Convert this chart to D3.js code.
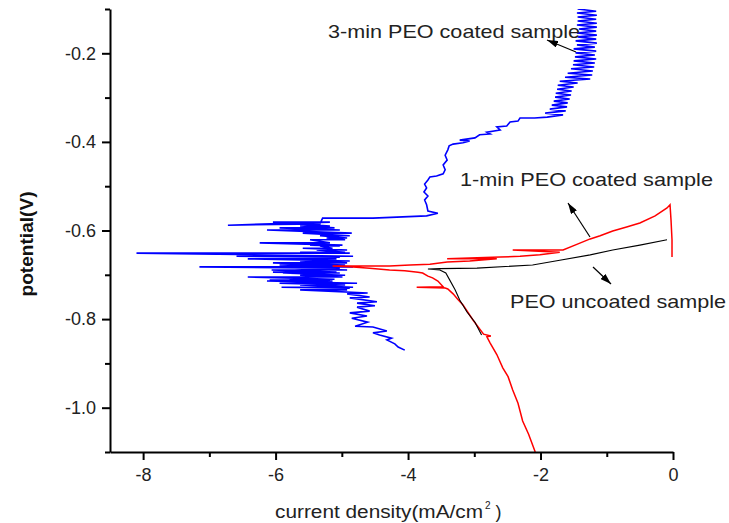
<!DOCTYPE html>
<html>
<head>
<meta charset="utf-8">
<script src="https://cdn.jsdelivr.net/npm/d3@7"></script>
<style>
  body { margin: 0; background: #fff; }
  text { font-family: "Liberation Sans", Arial, sans-serif; }
</style>
</head>
<body>
<div id="chart"></div>
<script>
// axis ticks
var xMajor = [-8, -6, -4, -2, 0];
var xMinor = [-7, -5, -3, -1];
var yMajor = [-1.0, -0.8, -0.6, -0.4, -0.2];
var yMinor = [-1.1, -0.9, -0.7, -0.5, -0.3, -0.1];

// [current density (mA/cm2), potential (V)] in scan order
var uncoated = [
  [-2.89,-0.836],[-2.99,-0.807],[-3.11,-0.784],[-3.22,-0.757],[-3.29,-0.734],
  [-3.37,-0.712],[-3.43,-0.696],[-3.52,-0.689],[-3.70,-0.687],[-3.52,-0.686],
  [-2.96,-0.685],[-2.12,-0.678],[-1.71,-0.667],[-1.25,-0.655],[-0.91,-0.644],
  [-0.50,-0.633],[-0.09,-0.621]
];

var coated1min = [
  [-2.08,-1.10],[-2.18,-1.06],[-2.27,-1.03],[-2.34,-0.99],[-2.42,-0.96],
  [-2.49,-0.93],[-2.57,-0.91],[-2.66,-0.88],[-2.76,-0.854],[-2.81,-0.840],
  [-2.75,-0.838],[-2.86,-0.834],[-2.95,-0.816],[-3.02,-0.802],[-3.10,-0.784],
  [-3.17,-0.768],[-3.25,-0.755],[-3.32,-0.743],[-3.40,-0.732],[-3.44,-0.730],
  [-3.87,-0.728],[-3.47,-0.727],[-3.55,-0.714],[-3.63,-0.707],[-3.70,-0.703],
  [-3.78,-0.696],[-3.85,-0.694],[-4.05,-0.691],[-4.28,-0.689],[-4.58,-0.685],
  [-4.88,-0.682],[-5.14,-0.680],[-4.73,-0.680],[-4.28,-0.680],[-3.97,-0.678],
  [-3.67,-0.676],[-3.41,-0.671],[-3.07,-0.669],[-2.66,-0.664],[-3.41,-0.664],
  [-2.61,-0.660],[-2.31,-0.658],[-2.01,-0.655],[-1.71,-0.649],[-2.42,-0.644],
  [-1.66,-0.644],[-1.48,-0.633],[-1.25,-0.619],[-1.10,-0.612],[-0.91,-0.601],
  [-0.70,-0.592],[-0.50,-0.583],[-0.27,-0.567],[-0.09,-0.549],[-0.045,-0.542],
  [-0.03,-0.576],[-0.015,-0.621],[-0.015,-0.660]
];

var coated3min = [
  [-4.05,-0.870],[-4.15,-0.863],[-4.20,-0.856],[-4.32,-0.847],[-4.25,-0.843],
  [-4.43,-0.836],[-4.53,-0.831],[-4.32,-0.827],[-4.53,-0.818],[-4.80,-0.816],
  [-4.61,-0.807],[-4.85,-0.798],[-4.62,-0.793],[-4.88,-0.786],[-4.58,-0.782],
  [-4.77,-0.773],[-4.50,-0.770],[-4.77,-0.764],[-4.47,-0.761],[-4.88,-0.752],
  [-4.58,-0.750],[-4.92,-0.743],[-4.61,-0.741],
  [-5.63,-0.734],[-4.92,-0.734],[-5.33,-0.730],[-4.88,-0.730],[-5.91,-0.728],
  [-4.83,-0.728],[-5.63,-0.723],[-4.95,-0.723],[-5.94,-0.719],[-4.77,-0.719],
  [-6.13,-0.714],[-5.14,-0.714],[-6.09,-0.712],[-5.18,-0.712],[-5.79,-0.710],
  [-5.11,-0.710],[-6.42,-0.705],[-4.99,-0.705],[-5.63,-0.701],[-4.95,-0.701],
  [-5.89,-0.696],[-5.03,-0.696],[-6.04,-0.694],[-5.08,-0.694],[-6.06,-0.689],
  [-4.92,-0.689],[-5.71,-0.685],[-5.03,-0.685],[-7.15,-0.682],[-4.83,-0.682],
  [-5.94,-0.678],[-4.95,-0.678],[-6.04,-0.673],[-4.92,-0.673],[-5.63,-0.669],
  [-4.88,-0.669],[-6.42,-0.664],[-5.08,-0.664],[-5.79,-0.660],[-5.03,-0.660],
  [-6.59,-0.658],[-4.83,-0.658],[-8.10,-0.651],[-4.88,-0.651],[-5.63,-0.649],
  [-4.95,-0.649],[-5.38,-0.644],[-4.92,-0.644],[-5.59,-0.640],[-5.14,-0.640],
  [-5.33,-0.635],[-5.03,-0.635],[-5.48,-0.633],[-4.99,-0.633],[-6.24,-0.628],
  [-5.18,-0.628],[-5.48,-0.621],[-4.95,-0.621],[-5.23,-0.617],[-4.92,-0.617],
  [-5.33,-0.612],[-4.88,-0.612],[-5.59,-0.606],[-4.85,-0.606],[-6.13,-0.599],
  [-5.03,-0.599],[-5.94,-0.594],[-5.11,-0.594],[-5.63,-0.590],[-5.18,-0.590],
  [-6.04,-0.581],[-5.18,-0.581],[-6.72,-0.588],[-5.33,-0.585],[-5.29,-0.572],
  [-4.53,-0.572],[-3.72,-0.567],
  [-3.55,-0.561],[-3.70,-0.556],[-3.72,-0.542],[-3.75,-0.531],[-3.70,-0.522],
  [-3.76,-0.513],[-3.72,-0.504],[-3.75,-0.495],[-3.70,-0.486],[-3.67,-0.479],
  [-3.57,-0.477],[-3.47,-0.472],[-3.44,-0.463],[-3.47,-0.452],[-3.41,-0.441],
  [-3.44,-0.430],[-3.40,-0.418],[-3.38,-0.409],[-3.32,-0.405],[-3.17,-0.402],
  [-3.07,-0.398],[-3.22,-0.396],[-2.99,-0.391],[-2.92,-0.384],[-2.76,-0.382],
  [-2.81,-0.378],[-2.61,-0.373],[-2.66,-0.366],[-2.51,-0.364],[-2.46,-0.355],
  [-2.34,-0.353],[-2.31,-0.346],[-2.09,-0.346],
  [-1.90,-0.344],[-1.66,-0.339],[-1.93,-0.335],[-1.62,-0.330],[-1.86,-0.326],
  [-1.60,-0.321],[-1.83,-0.317],[-1.59,-0.312],[-1.80,-0.308],[-1.56,-0.303],
  [-1.78,-0.299],[-1.54,-0.294],[-1.77,-0.290],[-1.53,-0.285],[-1.75,-0.281],
  [-1.50,-0.276],[-1.74,-0.272],[-1.44,-0.267],[-1.71,-0.263],
  [-1.25,-0.258],[-1.63,-0.254],[-1.22,-0.249],[-1.59,-0.245],[-1.21,-0.240],
  [-1.54,-0.235],[-1.19,-0.231],[-1.51,-0.226],[-1.18,-0.222],[-1.50,-0.217],
  [-1.16,-0.213],[-1.48,-0.208],[-1.18,-0.204],[-1.47,-0.199],[-1.16,-0.195],
  [-1.50,-0.190],[-1.18,-0.186],[-1.45,-0.181],[-1.15,-0.177],[-1.47,-0.172],
  [-1.16,-0.168],[-1.44,-0.163],[-1.15,-0.159],[-1.45,-0.154],[-1.16,-0.150],
  [-1.42,-0.145],[-1.15,-0.141],[-1.45,-0.136],[-1.15,-0.132],[-1.44,-0.127],
  [-1.16,-0.123],[-1.44,-0.118],[-1.15,-0.114],[-1.45,-0.109],[-1.16,-0.105],
  [-1.44,-0.100]
];

var width = 729, height = 523;

var svg = d3.select("#chart").append("svg").attr("width", width).attr("height", height);

var x = d3.scaleLinear().domain([-8.5, 0]).range([110, 673]);
var y = d3.scaleLinear().domain([-1.1, -0.1]).range([452, 9]);

svg.append("clipPath").attr("id", "plot")
  .append("rect").attr("x", 110).attr("y", 9).attr("width", 563).attr("height", 443);

var line = d3.line().x(d => x(d[0])).y(d => y(d[1]));

var curves = svg.append("g").attr("clip-path", "url(#plot)");
curves.append("path").datum(coated3min)
  .attr("d", line).attr("fill", "none").attr("stroke", "#0000ff").attr("stroke-width", 1.6);
curves.append("path").datum(coated1min)
  .attr("d", line).attr("fill", "none").attr("stroke", "#ff0000").attr("stroke-width", 1.5);
curves.append("path").datum(uncoated)
  .attr("d", line).attr("fill", "none").attr("stroke", "#000").attr("stroke-width", 1.1);

// x axis: minor ticks first, then major with labels
svg.append("g").attr("transform", "translate(0,452)")
  .call(d3.axisBottom(x).tickValues(xMinor).tickSize(5).tickFormat(""))
  .call(g => g.select(".domain").remove());
var gx = svg.append("g").attr("transform", "translate(0,452)")
  .call(d3.axisBottom(x).tickValues(xMajor).tickSize(8).tickSizeOuter(0).tickPadding(8)
    .tickFormat(d => String(d)));

svg.append("g").attr("transform", "translate(110,0)")
  .call(d3.axisLeft(y).tickValues(yMinor).tickSize(5).tickFormat(""))
  .call(g => g.select(".domain").remove());
var gy = svg.append("g").attr("transform", "translate(110,0)")
  .call(d3.axisLeft(y).tickValues(yMajor).tickSize(8).tickSizeOuter(0).tickPadding(6)
    .tickFormat(d => d.toFixed(1)));

svg.selectAll(".domain").attr("stroke", "#000").attr("stroke-width", 2);
svg.selectAll(".tick line").attr("stroke", "#000").attr("stroke-width", 2);
svg.selectAll(".tick text").attr("fill", "#222")
  .style("font-family", "'Liberation Sans', Arial, sans-serif").style("font-size", "18px");

// axis titles
var xt = svg.append("text").attr("x", 275).attr("y", 518).attr("fill", "#222")
  .style("font-size", "18px");
xt.append("tspan").text("current density(mA/cm").attr("textLength", 208).attr("lengthAdjust", "spacingAndGlyphs");
xt.append("tspan").text("2").attr("dx", 2).attr("dy", -9).style("font-size", "10px");
xt.append("tspan").text(")").attr("dx", 5).attr("dy", 9);

svg.append("text")
  .attr("transform", "translate(33,244) rotate(-90)")
  .attr("text-anchor", "middle")
  .attr("textLength", 105).attr("lengthAdjust", "spacingAndGlyphs")
  .style("font-size", "18px").style("font-weight", "bold").attr("fill", "#111")
  .text("potential(V)");

// annotations
function label(txt, x0, base, len) {
  svg.append("text").attr("x", x0).attr("y", base).attr("fill", "#222")
    .attr("textLength", len).attr("lengthAdjust", "spacingAndGlyphs")
    .style("font-size", "18.5px").text(txt);
}
label("3-min PEO coated sample", 328, 38, 252);
label("1-min PEO coated sample", 460, 186, 253);
label("PEO uncoated sample", 510, 308, 216);

svg.append("defs").append("marker").attr("id", "head")
  .attr("viewBox", "0 0 11 7").attr("refX", 11).attr("refY", 3.5)
  .attr("markerWidth", 11).attr("markerHeight", 7).attr("markerUnits", "userSpaceOnUse")
  .attr("orient", "auto")
  .append("path").attr("d", "M0,0 L11,3.5 L0,7 Z").attr("fill", "#000");

function arrow(x1, y1, x2, y2) {
  svg.append("line").attr("x1", x1).attr("y1", y1).attr("x2", x2).attr("y2", y2)
    .attr("stroke", "#000").attr("stroke-width", 1.2).attr("marker-end", "url(#head)");
}
arrow(576, 52, 547, 40);
arrow(590, 237, 568, 203);
arrow(593, 267, 611, 284);
</script>
</body>
</html>
